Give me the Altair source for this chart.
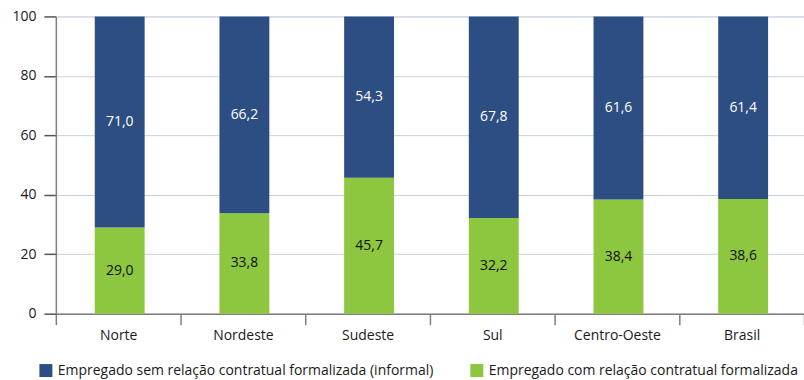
import altair as alt
import pandas as pd

regions = ["Norte", "Nordeste", "Sudeste", "Sul", "Centro-Oeste", "Brasil"]
informal = [71.0, 66.2, 54.3, 67.8, 61.6, 61.4]
formal = [29.0, 33.8, 45.7, 32.2, 38.4, 38.6]

lbl_informal = "Empregado sem relação contratual formalizada (informal)"
lbl_formal = "Empregado com relação contratual formalizada"

rows = []
for r, f, i in zip(regions, formal, informal):
    rows.append({"regiao": r, "tipo": lbl_formal, "valor": f, "ordem": 0})
    rows.append({"regiao": r, "tipo": lbl_informal, "valor": i, "ordem": 1})
df = pd.DataFrame(rows)

FONT = "Open Sans"
BLUE = "#2d4e82"
GREEN = "#8dc63f"

base = alt.Chart(df).transform_stack(
    stack="valor", groupby=["regiao"], as_=["y0", "y1"],
    sort=[alt.SortField("ordem", order="ascending")],
).transform_calculate(
    mid="(datum.y0 + datum.y1) / 2",
    rotulo="replace(format(datum.valor, '.1f'), '.', ',')",
)

x_enc = alt.X(
    "regiao:N", sort=regions, title=None,
    scale=alt.Scale(paddingInner=0, paddingOuter=0),
    axis=alt.Axis(
        labelAngle=0, tickBand="extent", tickSize=11, tickColor="#7f7f7f",
        tickWidth=1.5, domainColor="#7f7f7f", domainWidth=1.5,
        labelFont=FONT, labelFontSize=14, labelColor="#1a1a1a",
        labelPadding=4, grid=False,
    ),
)

bars = base.mark_bar(size=50, xOffset=1.5).encode(
    x=x_enc,
    y=alt.Y(
        "y0:Q", title=None,
        scale=alt.Scale(domain=[0, 100], nice=False),
        axis=alt.Axis(
            values=[0, 20, 40, 60, 80, 100], tickSize=12, tickColor="#555555",
            tickWidth=1.5, domainColor="#7f7f7f", domainWidth=1.5,
            gridColor="#c8d2e3", gridWidth=1, labelFont=FONT,
            labelFontSize=14, labelColor="#1a1a1a", labelPadding=8,
        ),
    ),
    y2="y1:Q",
    color=alt.Color(
        "tipo:N", title=None,
        scale=alt.Scale(domain=[lbl_informal, lbl_formal], range=[BLUE, GREEN]),
        legend=alt.Legend(
            orient="none", legendX=-17, legendY=348, direction="horizontal",
            symbolType="square", symbolSize=169, symbolStrokeWidth=0,
            symbolOpacity=1, labelFont=FONT, labelFontSize=14,
            labelColor="#1a1a1a", labelLimit=600, labelOffset=5,
            columnPadding=36,
        ),
    ),
)

texts = base.mark_text(font=FONT, fontSize=14, xOffset=1.5).encode(
    x=alt.X("regiao:N", sort=regions),
    y=alt.Y("mid:Q"),
    text="rotulo:N",
    color=alt.Color(
        "tipo:N",
        scale=alt.Scale(domain=[lbl_informal, lbl_formal], range=["#ffffff", "#111111"]),
        legend=None,
    ),
)

chart = alt.layer(bars, texts).resolve_scale(color="independent").properties(
    width=750, height=298,
    autosize=alt.AutoSizeParams(type="none"),
    padding={"left": 56, "top": 16, "right": 0, "bottom": 66},
).configure_view(stroke=None).configure(background="white")

chart.save("out.html", embed_options={"renderer": "svg", "actions": False})
